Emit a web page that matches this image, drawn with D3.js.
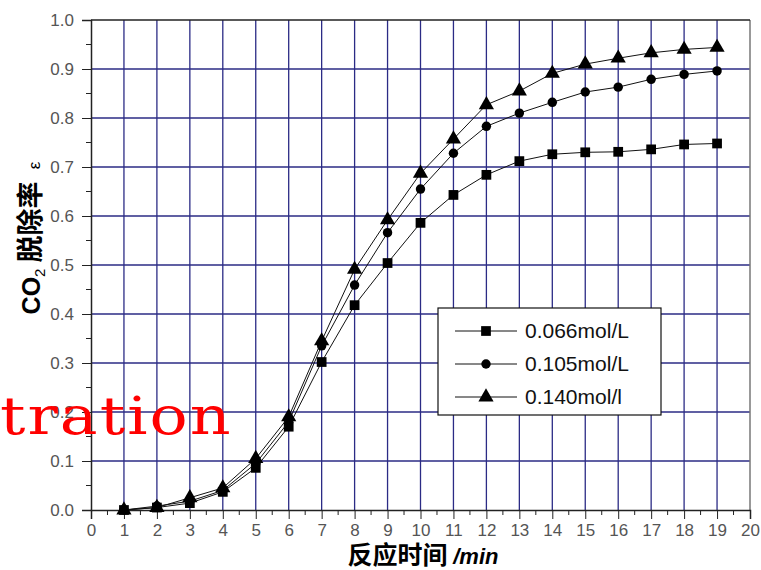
<!DOCTYPE html>
<html><head><meta charset="utf-8">
<script src="https://cdn.jsdelivr.net/npm/d3@7"></script>
<style>body{margin:0;background:#fff}svg{display:block}</style>
</head><body>
<script>
const times = [1,2,3,4,5,6,7,8,9,10,11,12,13,14,15,16,17,18,19];
const s066 = [0,0.005,0.014,0.037,0.086,0.17,0.302,0.418,0.504,0.586,0.643,0.684,0.712,0.726,0.73,0.731,0.736,0.746,0.748];
const s105 = [0,0.008,0.018,0.04,0.095,0.18,0.335,0.459,0.566,0.655,0.728,0.783,0.81,0.832,0.853,0.863,0.879,0.889,0.896];
const s140 = [0,0.005,0.025,0.045,0.105,0.19,0.345,0.491,0.592,0.687,0.757,0.827,0.855,0.891,0.91,0.922,0.933,0.94,0.944];
const seriesNames = ["0.066mol/L","0.105mol/L","0.140mol/l"];
const xTicks = d3.range(0,21);
const yTicks = [0,0.1,0.2,0.3,0.4,0.5,0.6,0.7,0.8,0.9,1.0];

const W=761,H=570;
const svg=d3.select("body").append("svg").attr("width",W).attr("height",H);
const x=d3.scaleLinear().domain([0,20]).range([91,750]);
const y=d3.scaleLinear().domain([0,1]).range([510,20]);
const grid="#2b2b85";

// grid
svg.append("g").selectAll("line").data(xTicks.filter(d=>d>0&&d<20)).join("line")
  .attr("x1",d=>x(d)).attr("x2",d=>x(d)).attr("y1",y(0)).attr("y2",y(1))
  .attr("stroke",grid).attr("stroke-width",1.3);
svg.append("g").selectAll("line").data(yTicks.filter(d=>d>0&&d<1)).join("line")
  .attr("x1",x(0)).attr("x2",x(20)).attr("y1",d=>y(d)).attr("y2",d=>y(d))
  .attr("stroke",grid).attr("stroke-width",1.3);
// frame
svg.append("line").attr("x1",x(20)).attr("x2",x(20)).attr("y1",y(0)).attr("y2",y(1)).attr("stroke","#777").attr("stroke-width",1.5);
svg.append("line").attr("x1",x(0)).attr("x2",x(20)).attr("y1",y(1)).attr("y2",y(1)).attr("stroke","#222").attr("stroke-width",1.5);

// axes
const xAxis=d3.axisBottom(x).tickValues(xTicks).tickSize(9).tickPadding(5).tickFormat(d3.format("d"));
const gx=svg.append("g").attr("transform",`translate(0,${y(0)})`).call(xAxis);
gx.append("g").selectAll("line").data(d3.range(0.5,20,1)).join("line")
  .attr("x1",d=>x(d)).attr("x2",d=>x(d)).attr("y1",0).attr("y2",5).attr("stroke","#222");
const yAxis=d3.axisLeft(y).tickValues(yTicks).tickSize(9).tickPadding(8).tickFormat(d3.format(".1f"));
const gy=svg.append("g").attr("transform",`translate(${x(0)},0)`).call(yAxis);
gy.append("g").selectAll("line").data(d3.range(0.05,1,0.1)).join("line")
  .attr("x1",-5).attr("x2",0).attr("y1",d=>y(d)).attr("y2",d=>y(d)).attr("stroke","#222");
[gx,gy].forEach(g=>{
  g.select(".domain").attr("stroke","#222").attr("stroke-width",1.5);
  g.selectAll(".tick line").attr("stroke","#222");
  g.selectAll("text").attr("font-family","Liberation Sans, Arial").attr("font-size",17).attr("fill","#555");
});

// series
const data=[s066,s105,s140];
const symbols=[d3.symbolSquare,d3.symbolCircle,d3.symbolTriangle];
const sizes=[95,70,100];
const line=d3.line().x((d,i)=>x(times[i])).y(d=>y(d));
data.forEach((s,k)=>{
  svg.append("path").datum(s).attr("d",line).attr("fill","none").attr("stroke","#111").attr("stroke-width",1);
  svg.append("g").selectAll("path").data(s).join("path")
    .attr("transform",(d,i)=>`translate(${x(times[i])},${y(d)})`)
    .attr("d",d3.symbol().type(symbols[k]).size(sizes[k])).attr("fill","#000");
});

// legend
const lg=svg.append("g");
lg.append("rect").attr("x",438).attr("y",308).attr("width",223).attr("height",107).attr("fill","#fff").attr("stroke","#111").attr("stroke-width",1.2);
seriesNames.forEach((n,k)=>{
  const yy=331+k*33;
  lg.append("line").attr("x1",455).attr("x2",517).attr("y1",yy).attr("y2",yy).attr("stroke","#111");
  lg.append("path").attr("transform",`translate(486,${yy})`).attr("d",d3.symbol().type(symbols[k]).size(sizes[k])).attr("fill","#000");
  lg.append("text").attr("x",525).attr("y",yy+7).text(n).attr("font-family","Liberation Sans, Arial").attr("font-size",21).attr("fill","#111");
});

// axis titles
const xt=svg.append("text").attr("x",423).attr("y",564).attr("text-anchor","middle").attr("fill","#000");
xt.append("tspan").text("反应时间 ").attr("font-family","Noto Sans CJK SC").attr("font-weight","bold").attr("font-size",25);
xt.append("tspan").text("/min").attr("font-family","Liberation Sans, Arial").attr("font-weight","bold").attr("font-style","italic").attr("font-size",22);

const yt=svg.append("text").attr("transform","translate(40,238) rotate(-90)").attr("text-anchor","middle").attr("fill","#000");
yt.append("tspan").text("CO").attr("font-family","Liberation Sans, Arial").attr("font-weight","bold").attr("font-size",25);
yt.append("tspan").text("2").attr("font-family","Liberation Sans, Arial").attr("font-size",15).attr("dy",5);
yt.append("tspan").text("\u00a0脱除率\u00a0\u00a0").attr("font-family","Noto Sans CJK SC").attr("font-weight","bold").attr("font-size",27).attr("dy",-5);
yt.append("tspan").text("ε").attr("font-family","Liberation Sans, Arial").attr("font-size",17);

// overlay red text
svg.append("text").attr("transform","scale(1.22,1)").attr("x",0).attr("y",434).text("tration").attr("font-family","DejaVu Serif").attr("font-size",52)
  .attr("textLength",189).attr("lengthAdjust","spacing").attr("fill","#ff0000");
</script>
</body></html>
